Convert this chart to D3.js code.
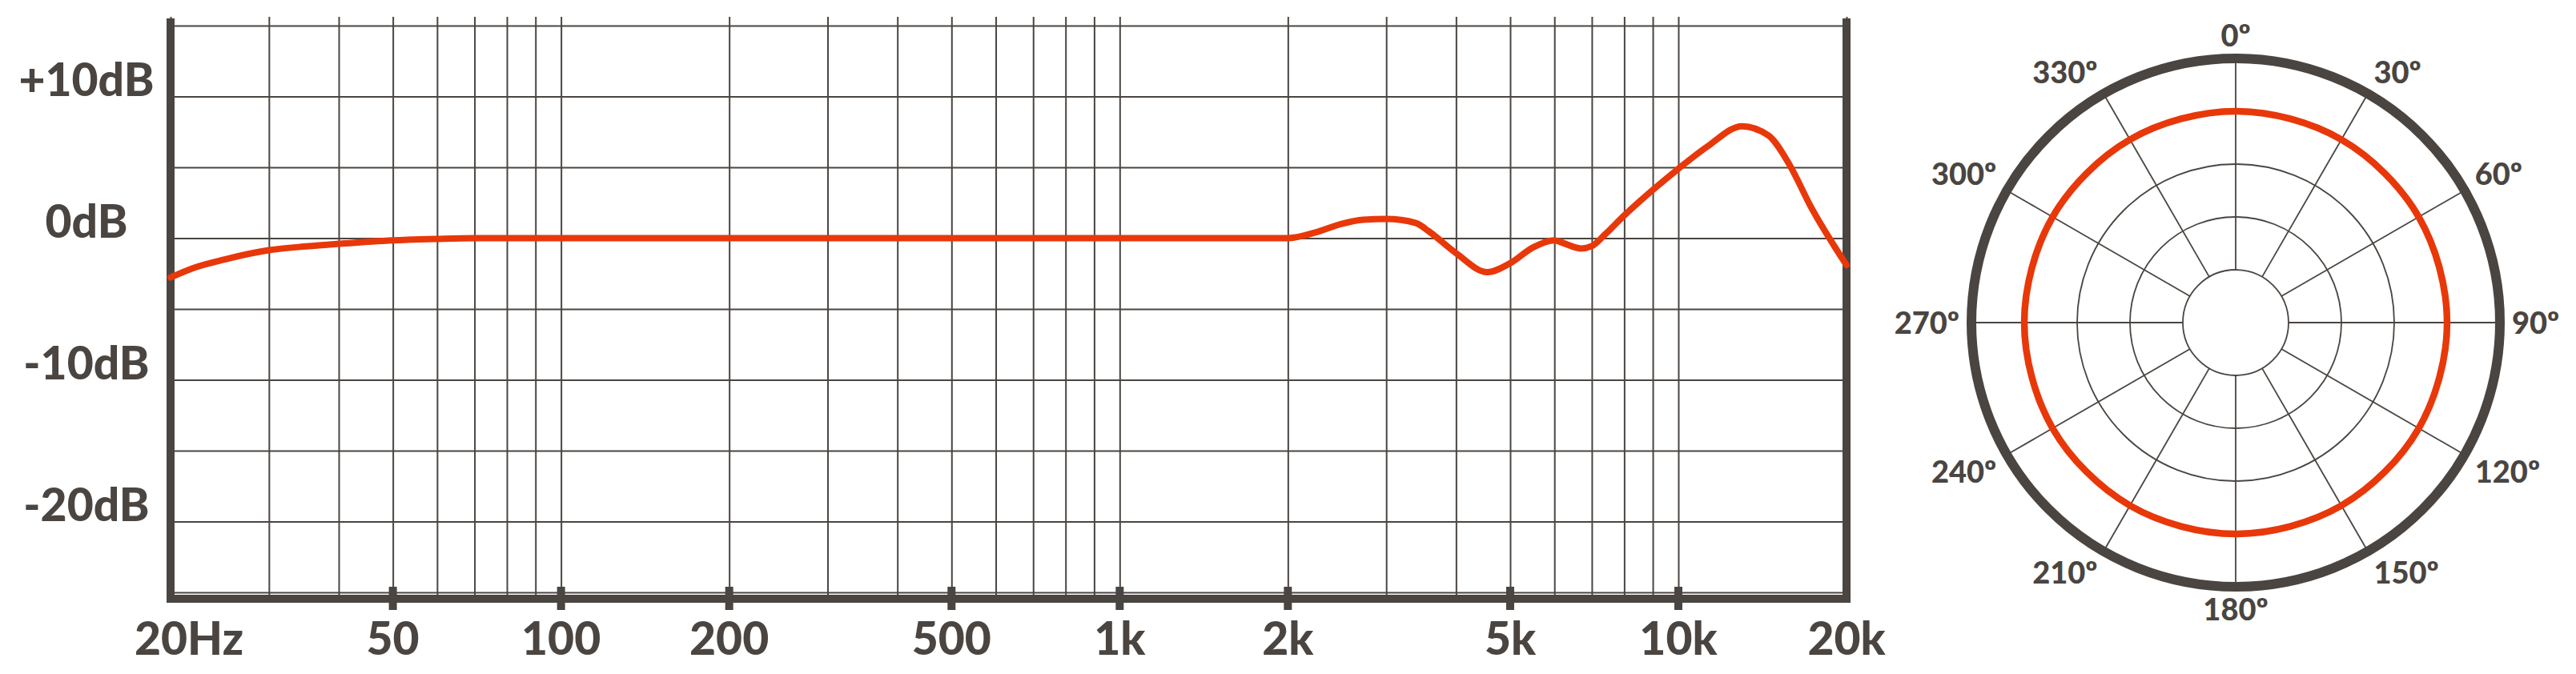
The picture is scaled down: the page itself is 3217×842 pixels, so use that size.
<!DOCTYPE html>
<html>
<head>
<meta charset="utf-8">
<script src="https://cdn.jsdelivr.net/npm/d3@7"></script>
<style>
  body { margin: 0; background: #fff; }
  text { font-family: Lato, "Open Sans", sans-serif; font-weight: 900; fill: #4a4541; }
</style>
</head>
<body>
<div id="chart"></div>
<script>
// frequency response
var freqs  = [20, 22, 25, 30, 35, 40, 50, 60, 70, 100, 1000, 2000, 2240, 2490, 2730, 3000, 3390, 3570,
              4000, 4550, 5000, 5500, 6000, 6180, 6700, 7000, 7400, 8000, 9000, 10000, 11300, 13000,
              14500, 15800, 17300, 20000];
var levels = [-2.77, -2.1, -1.5, -0.85, -0.58, -0.4, -0.15, -0.05, 0, 0, 0, 0, 0.4, 1.0, 1.3, 1.35, 1.07, 0.5,
              -1.06, -2.4, -1.77, -0.64, -0.15, -0.3, -0.73, -0.56, 0.28, 1.6, 3.4, 4.9, 6.5, 7.9,
              7.24, 5.2, 2.15, -1.9];

var dbGrid = [15, 10, 5, 0, -5, -10, -15, -20, -25];
var dbTicks = [10, 0, -10, -20];
var dbTickLabels = ['+10dB', '0dB', '-10dB', '-20dB'];
var freqTicks = [20, 50, 100, 200, 500, 1000, 2000, 5000, 10000, 20000];
var freqTickLabels = ['20Hz', '50', '100', '200', '500', '1k', '2k', '5k', '10k', '20k'];

// polar pattern (omni)
var polarAngles = [0, 30, 60, 90, 120, 150, 180, 210, 240, 270, 300, 330];
var polarLevels = [0, 0, 0, 0, 0, 0, 0, 0, 0, 0, 0, 0];
var polarAngleLabels = ['0º', '30º', '60º', '90º', '120º', '150º', '180º', '210º', '240º', '270º', '300º', '330º'];
var polarRings = [-15, -10, -5, 0];

var width = 3217;
var height = 842;
var dark = '#4a4541';
var red = '#e8380a';

var svg = d3.select('#chart')
  .append('svg')
  .attr('width', width)
  .attr('height', height)
  .style('display', 'block');

var x = d3.scaleLog().domain([20, 20000]).range([213, 2306]);
var y = d3.scaleLinear().domain([-25, 15]).range([740, 32]);
var plotTop = 21, plotBottom = 748;

// vertical grid
var vg = svg.append('g')
  .attr('transform', 'translate(0,' + plotBottom + ')')
  .call(d3.axisBottom(x).tickValues(x.ticks()).tickSize(-(plotBottom - plotTop)).tickFormat(''));
vg.select('.domain').remove();
vg.selectAll('line').attr('stroke', dark).attr('stroke-width', 2);

// horizontal grid
var hg = svg.append('g')
  .attr('transform', 'translate(' + x(20) + ',0)')
  .call(d3.axisLeft(y).tickValues(dbGrid).tickSize(-(x(20000) - x(20))).tickFormat(''));
hg.select('.domain').remove();
hg.selectAll('line').attr('stroke', dark).attr('stroke-width', 2);

// frame
svg.append('path')
  .attr('d', 'M' + x(20) + ',' + (plotTop + 2) + 'V' + plotBottom + 'H' + x(20000) + 'V' + (plotTop + 2))
  .attr('fill', 'none')
  .attr('stroke', dark)
  .attr('stroke-width', 10)
  .attr('stroke-linejoin', 'miter');

// tick marks on bottom axis
svg.selectAll('rect.tick')
  .data(freqTicks.slice(1, -1))
  .enter()
  .append('rect')
  .attr('class', 'tick')
  .attr('x', function(d) { return x(d) - 5; })
  .attr('y', plotBottom - 15)
  .attr('width', 10)
  .attr('height', 29)
  .attr('fill', dark);

// x labels
svg.selectAll('text.xl')
  .data(freqTicks)
  .enter()
  .append('text')
  .attr('class', 'xl')
  .attr('x', function(d, i) { return i === 0 ? x(d) - 45 : x(d); })
  .attr('y', 818)
  .attr('text-anchor', function(d, i) { return i === 0 ? 'start' : 'middle'; })
  .style('font-size', '57px')
  .text(function(d, i) { return freqTickLabels[i]; });

// y labels
svg.selectAll('text.yl')
  .data(dbTicks)
  .enter()
  .append('text')
  .attr('class', 'yl')
  .attr('x', 108)
  .attr('y', function(d) { return y(d) - 1; })
  .attr('text-anchor', 'middle')
  .style('font-size', '57px')
  .text(function(d, i) { return dbTickLabels[i]; });

// response curve
var pts = freqs.map(function(f, i) { return { f: f, v: levels[i] }; });
var line = d3.line()
  .x(function(d) { return x(d.f); })
  .y(function(d) { return y(d.v); })
  .curve(d3.curveMonotoneX);

svg.append('path')
  .datum(pts)
  .attr('d', line)
  .attr('fill', 'none')
  .attr('stroke', red)
  .attr('stroke-width', 8)
  .attr('stroke-linecap', 'round')
  .attr('stroke-linejoin', 'round');

// ---- polar plot ----
var cx = 2792, cy = 403;
var r = d3.scaleLinear().domain([-15, 5]).range([66, 330]);
var pg = svg.append('g').attr('transform', 'translate(' + cx + ',' + cy + ')');

pg.selectAll('circle.ring')
  .data(polarRings)
  .enter()
  .append('circle')
  .attr('class', 'ring')
  .attr('r', function(d) { return r(d); })
  .attr('fill', 'none')
  .attr('stroke', dark)
  .attr('stroke-width', 1.8);

pg.selectAll('line.spoke')
  .data(polarAngles)
  .enter()
  .append('line')
  .attr('class', 'spoke')
  .attr('x1', function(d) { return r(-15) * Math.sin(d * Math.PI / 180); })
  .attr('y1', function(d) { return -r(-15) * Math.cos(d * Math.PI / 180); })
  .attr('x2', function(d) { return r(5) * Math.sin(d * Math.PI / 180); })
  .attr('y2', function(d) { return -r(5) * Math.cos(d * Math.PI / 180); })
  .attr('stroke', dark)
  .attr('stroke-width', 1.8);

pg.append('circle')
  .attr('r', r(5))
  .attr('fill', 'none')
  .attr('stroke', dark)
  .attr('stroke-width', 12);

var polarPts = polarAngles.map(function(a, i) { return { a: a, v: polarLevels[i] }; });
var radial = d3.lineRadial()
  .angle(function(d) { return d.a * Math.PI / 180; })
  .radius(function(d) { return r(d.v); })
  .curve(d3.curveCatmullRomClosed);

pg.append('path')
  .datum(polarPts)
  .attr('d', radial)
  .attr('fill', 'none')
  .attr('stroke', red)
  .attr('stroke-width', 8.5);

var labelR = 345;
pg.selectAll('text.al')
  .data(polarAngles)
  .enter()
  .append('text')
  .attr('class', 'al')
  .attr('x', function(d) { return labelR * Math.sin(d * Math.PI / 180); })
  .attr('y', function(d) { return -labelR * Math.cos(d * Math.PI / 180); })
  .attr('dy', function(d) {
    var c = Math.cos(d * Math.PI / 180);
    return c > 0.1 ? 0 : (c < -0.1 ? '0.72em' : '0.36em');
  })
  .attr('text-anchor', function(d) {
    var s = Math.sin(d * Math.PI / 180);
    return s > 0.1 ? 'start' : (s < -0.1 ? 'end' : 'middle');
  })
  .style('font-size', '38px')
  .text(function(d, i) { return polarAngleLabels[i]; });
</script>
</body>
</html>
